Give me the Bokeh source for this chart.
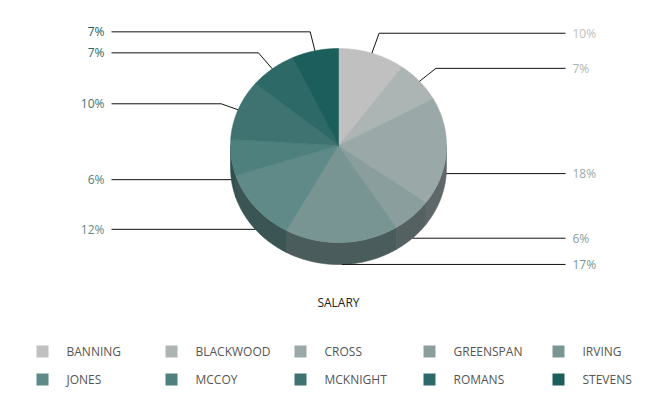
import numpy as np
from bokeh.plotting import figure
from bokeh.models import Range1d
from bokeh.core.properties import value
from bokeh.embed import file_html
from bokeh.resources import INLINE

# ---- data ----
names = ["BANNING", "BLACKWOOD", "CROSS", "GREENSPAN", "IRVING",
         "JONES", "MCCOY", "MCKNIGHT", "ROMANS", "STEVENS"]
salary_pct = [10, 7, 18, 6, 17, 12, 6, 10, 7, 7]
title_text = "SALARY"

# ---- styles / layout ----
colors = ["#c0c0c0", "#adb5b4", "#9aa9a8", "#8a9e9e", "#789593",
          "#5f8a87", "#4e807d", "#3e7371", "#2d6967", "#1b5e5b"]
label_shift = [-20, -13, 0, 0, 0, 0, 0, -6, -16, -19]
CX, CY, RX, RY, DEPTH = 338, 145, 108, 97, 22
FONT = value("Open Sans")
W, H = 647, 394


def darker(hexc, f=0.62):
    r, g, b = (int(hexc[i:i + 2], 16) for i in (1, 3, 5))
    return "#%02x%02x%02x" % (int(r * f), int(g * f), int(b * f))


def ex(t):
    return CX + RX * np.sin(t)


def ey(t):
    return CY - RY * np.cos(t)


p = figure(width=W, height=H, output_backend="svg", toolbar_location=None,
           x_range=Range1d(0, W), y_range=Range1d(H, 0),
           x_axis_location=None, y_axis_location=None, min_border=0)
p.grid.visible = False
p.outline_line_color = None
p.background_fill_color = "white"

total = float(sum(salary_pct))
fr = np.array(salary_pct) / total
ends = np.cumsum(fr) * 2 * np.pi
starts = ends - fr * 2 * np.pi

# side faces (front half only)
sx, sy, sc = [], [], []
for a1, a2, c in zip(starts, ends, colors):
    lo, hi = max(a1, np.pi / 2), min(a2, 3 * np.pi / 2)
    if hi <= lo:
        continue
    t = np.linspace(lo, hi, 60)
    xs = np.concatenate([ex(t), ex(t[::-1])])
    ys = np.concatenate([ey(t), ey(t[::-1]) + DEPTH])
    sx.append(list(xs)); sy.append(list(ys)); sc.append(darker(c))
p.patches(sx, sy, fill_color=sc, line_color=sc, line_width=0.6)

# top faces
tx, ty = [], []
for a1, a2 in zip(starts, ends):
    t = np.linspace(a1, a2, 80)
    tx.append([CX] + list(ex(t)))
    ty.append([CY] + list(ey(t)))
p.patches(tx, ty, fill_color=colors, line_color=colors, line_width=0.6)

# leader lines and labels
lx, ly = [], []
for a1, a2, pct, c, dy in zip(starts, ends, salary_pct, colors, label_shift):
    m = (a1 + a2) / 2
    ax, ay = ex(m), ey(m)
    if np.cos(m) < 0:
        ay += DEPTH
    yl = ay + dy
    if dy != 0:
        dxr, dyr = RX * np.sin(m), -RY * np.cos(m)
        ex_ = ax + (yl - ay) / dyr * dxr
    else:
        ex_ = ax
    right = np.sin(m) > 0
    xend = 565 if right else 111
    lx.append([ax, ex_, xend]); ly.append([ay, yl, yl])
    p.text(x=[572 if right else 104], y=[yl], text=["%d%%" % pct],
           text_font=FONT, text_font_size="12px", text_color=c,
           text_align="left" if right else "right", text_baseline="middle")
p.multi_line(lx, ly, line_color="#111111", line_width=1)

# title
p.text(x=[CX], y=[302], text=[title_text], text_font=FONT, text_font_size="12px",
       text_color="#222222", text_align="center", text_baseline="middle")

# legend
cols = [i % 5 for i in range(len(names))]
rows = [i // 5 for i in range(len(names))]
sqx = [42 + 129 * c for c in cols]
sqy = [351 + 28 * r for r in rows]
p.rect(x=sqx, y=sqy, width=12, height=12, fill_color=colors, line_color=None)
p.text(x=[66 + 129 * c for c in cols], y=sqy, text=names, text_font=FONT,
       text_font_size="12px", text_color="#555555", text_align="left",
       text_baseline="middle")

open("out.html", "w").write(file_html(p, INLINE))
